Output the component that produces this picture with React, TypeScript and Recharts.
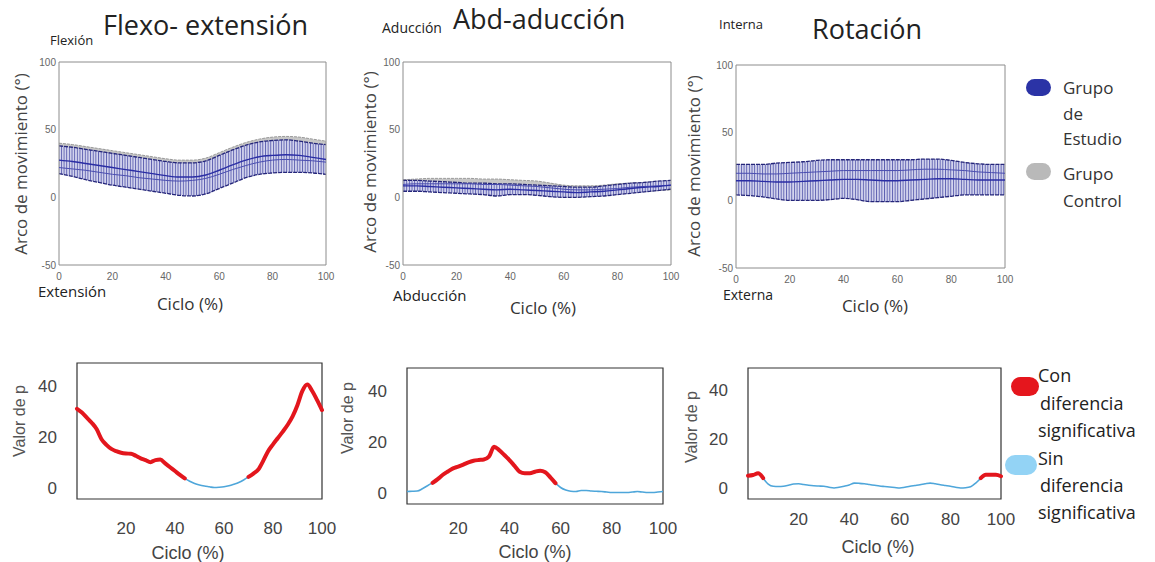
import React from 'react';
import { ComposedChart, Line, Area, XAxis, YAxis, ReferenceArea } from 'recharts';

// ciclo de marcha (%)
const cycle5 = [0, 5, 10, 15, 20, 25, 30, 35, 40, 45, 50, 55, 60, 65, 70, 75, 80, 85, 90, 95, 100];
const cycle2 = [
  0, 2, 4, 6, 8, 10, 12, 14, 16, 18, 20, 22, 24, 26, 28, 30, 32, 34, 36, 38, 40, 42, 44, 46, 48, 50,
  52, 54, 56, 58, 60, 62, 64, 66, 68, 70, 72, 74, 76, 78, 80, 82, 84, 86, 88, 90, 92, 94, 96, 98, 100,
];

const topXTicks = [0, 20, 40, 60, 80, 100];
const topYTicks = [-50, 0, 50, 100];
const pXTicks = [20, 40, 60, 80, 100];
const pYTicks = [0, 20, 40];

// Flexo-extensión (grados)
const flexStudyUpper = [38, 37, 35.5, 34, 32.5, 31, 29.5, 28, 26.5, 25.5, 25.5, 27, 31, 35, 38.5, 41, 42, 42.5, 41.5, 40, 39];
const flexStudyMean = [27.5, 26.5, 25, 23.5, 22, 20.5, 19, 17.5, 16, 15, 15, 16.5, 20, 24, 27.5, 30, 31, 31.5, 31, 29.5, 28];
const flexStudyLower = [17.5, 15.5, 13, 11, 9, 7.5, 6, 4.5, 3, 1.5, 1, 2.5, 6.5, 10.5, 14.5, 17, 18, 18.5, 18.5, 18, 17];
const flexControlUpper = [40, 39, 37.5, 36, 34.5, 33, 31.5, 30, 28.5, 27.5, 27.5, 29, 33, 37, 40.5, 43, 44.5, 45, 44.5, 43, 41.5];
const flexControlMean = [22, 21, 20, 18.5, 17, 16, 14.5, 13.5, 12.5, 12, 12.5, 14, 17, 20.5, 23.5, 26, 27.5, 28, 27.5, 27, 26];
const flexControlLower = [19, 17, 15, 13, 11, 9.5, 8, 6.5, 5, 3.5, 3, 4.5, 8.5, 12.5, 16, 18.5, 19.5, 20, 20, 19.5, 18.5];

// Abd-aducción
const abdStudyUpper = [12.5, 12.5, 12, 11.5, 11, 10.5, 10.5, 10, 10, 9.5, 9, 8.5, 8, 7.5, 7.5, 8.5, 9.5, 10.5, 11, 12, 12.5];
const abdStudyMean = [8.5, 8.5, 8, 7.5, 7, 6.5, 6, 5.5, 6, 5.5, 5, 4.5, 4, 3.5, 4, 4.5, 5.5, 6.5, 7.5, 8, 9];
const abdStudyLower = [4.5, 4.5, 4, 3.5, 3, 2.5, 2, 1, 2, 2, 1.5, 0.5, 0, 0, 0.5, 1, 2, 3, 4, 5, 6];
const abdControlUpper = [13, 13.5, 14, 14, 14, 14, 13.5, 13.5, 13, 12.5, 12, 10.5, 9, 8.5, 8.5, 9, 10, 10.5, 11, 11.5, 12];
const abdControlMean = [9.5, 10, 10, 10, 10, 10, 9.5, 9.5, 9, 8.5, 8, 7, 6, 5.5, 5.5, 6, 6.5, 7.5, 8, 8.5, 9];
const abdControlLower = [5.5, 6, 6, 6, 6, 6, 5.5, 5.5, 5, 4.5, 4, 3.5, 3, 2.5, 2.5, 3, 3.5, 4, 4.5, 5, 5.5];

// Rotación
const rotStudyUpper = [26.5, 26.5, 26.5, 27.5, 28, 28.5, 29.5, 30, 30, 30, 30, 30, 30, 30, 30.5, 30.5, 29.5, 28, 27, 26.5, 26.5];
const rotStudyMean = [14.5, 14.5, 14, 13.5, 13.5, 14, 14.5, 15, 15.5, 15.5, 15, 14.5, 14.5, 15, 15.5, 16, 16, 15.5, 15, 15, 15];
const rotStudyLower = [4, 3.5, 2.5, 1, 0, 0, 0, 0.5, 1.5, 0.5, -1, -1, -1, 0, 1, 2, 3, 4, 4, 4, 4];
const rotControlUpper = [26, 26, 26, 26.5, 27, 27.5, 28, 28.5, 29, 29, 29, 29, 29, 29, 29.5, 29.5, 29, 27.5, 26.5, 26, 26];
const rotControlMean = [20, 20, 19.5, 19.5, 20, 20.5, 21, 21.5, 22, 22, 22, 22, 22, 22.5, 23, 23, 22.5, 22, 21, 20.5, 20];
const rotControlLower = [6, 5.5, 4.5, 3, 2, 2, 2, 2.5, 3.5, 2.5, 1, 1, 1, 2, 3, 4, 5, 5.5, 5.5, 5.5, 5.5];

// Valor de p
const flexP = [
  31, 29.5, 27.5, 25.5, 23, 19, 16.8, 15.2, 14.3, 13.7, 13.4, 13.3, 12.5, 11.5, 10.8, 10, 10.8, 11, 9.5, 8, 6.5,
  5, 3.6, 2.5, 1.6, 1, 0.6, 0.3, 0, 0.1, 0.3, 0.7, 1.3, 2, 3, 4.2, 5.5, 7.1, 10.5, 14.3, 17, 19.5, 22, 24.7, 28,
  32.5, 38, 40.5, 38, 34.4, 30.5,
];
const abdP = [
  0.4, 0.5, 0.6, 1.5, 2.7, 3.8, 5.3, 7, 8.3, 9.5, 10.2, 11, 11.9, 12.5, 12.8, 13, 14.1, 18, 16.7, 14.8, 12.8,
  10.5, 8.2, 7.6, 7.6, 8.2, 8.6, 8, 6, 3.7, 2, 1, 0.5, 0.4, 0.8, 0.8, 0.6, 0.5, 0.4, 0.2, 0, 0, 0, 0, 0.2, 0.4,
  0.2, 0, 0, 0.2, 0.4,
];
const rotP = [
  5, 5.3, 6, 4, 1.6, 0.7, 0.6, 0.7, 1.1, 1.6, 1.7, 1.4, 1.1, 0.9, 0.8, 0.7, 0.3, 0, 0.3, 0.7, 1.2, 2, 1.9, 1.7,
  1.4, 1.1, 0.8, 0.6, 0.4, 0.2, 0, 0.3, 0.7, 1, 1.3, 1.7, 2, 1.7, 1.3, 1, 0.7, 0.3, 0, 0.1, 0.5, 2, 4, 5.4, 5.4,
  5.4, 4.8,
];

// tramos con diferencia significativa
const flexSig = [[0, 44], [70, 100]];
const abdSig = [[10, 58]];
const rotSig = [[0, 6], [92, 100]];

const bandRows = (su, sm, sl, cu, cm, cl) =>
  cycle5.map((x, i) => ({
    x,
    study: [sl[i], su[i]],
    studyMean: sm[i],
    control: [cl[i], cu[i]],
    controlMean: cm[i],
  }));

const pRows = (p, sig) =>
  cycle2.map((x, i) => {
    const on = sig.some(([a, b]) => x >= a && x <= b);
    const inside = sig.some(([a, b]) => x > a && x < b);
    return { x, sig: on ? p[i] : null, non: inside ? null : p[i] };
  });

const Txt = ({ x, y, size, children, color = '#222', font = '"Open Sans"', center = false, rotate = false, weight = 400 }) => {
  const tf = rotate ? 'translate(-50%,-50%) rotate(-90deg)' : center ? 'translate(-50%,-50%)' : 'translateY(-50%)';
  return (
    <div
      style={{
        position: 'absolute',
        left: x,
        top: y,
        fontSize: size,
        color,
        fontFamily: font,
        fontWeight: weight,
        whiteSpace: 'nowrap',
        lineHeight: 1,
        transform: tf,
      }}
    >
      {children}
    </div>
  );
};

const marginFor = (box, plot, yw, xh) => ({
  left: plot.x0 - box.left - yw,
  top: plot.y0 - box.top,
  right: box.left + box.width - plot.x1,
  bottom: box.top + box.height - plot.y1 - xh,
});

const tickTop = { fontSize: 10, fill: '#666', fontFamily: '"Liberation Sans"' };
const tickBottom = { fontSize: 17, fill: '#444', fontFamily: '"Liberation Sans"' };

const BandChart = ({ id, box, plot, rows }) => (
  <div style={{ position: 'absolute', left: box.left, top: box.top }}>
    <ComposedChart width={box.width} height={box.height} data={rows} margin={marginFor(box, plot, 30, 20)}>
      <defs>
        <pattern id={`hatch-${id}`} width={2.65} height={6} patternUnits="userSpaceOnUse">
          <rect width={2.65} height={6} fill="#d4d5ee" />
          <line x1={0.5} y1={0} x2={0.5} y2={6} stroke="#33379a" strokeWidth={0.75} />
        </pattern>
      </defs>
      <XAxis
        dataKey="x"
        type="number"
        domain={[0, 100]}
        ticks={topXTicks}
        interval={0}
        height={20}
        axisLine={false}
        tickLine={false}
        tickSize={4}
        tickMargin={4}
        tick={tickTop}
      />
      <YAxis
        type="number"
        domain={[-50, 100]}
        ticks={topYTicks}
        interval={0}
        width={30}
        axisLine={false}
        tickLine={false}
        tickSize={0}
        tickMargin={3}
        tick={tickTop}
      />
      <Area
        type="monotone"
        dataKey="control"
        fill="#c6c6c6"
        fillOpacity={1}
        stroke="#9a9a9a"
        strokeDasharray="3 1"
        strokeWidth={1}
        isAnimationActive={false}
      />
      <Area
        type="monotone"
        dataKey="study"
        fill={`url(#hatch-${id})`}
        fillOpacity={1}
        stroke="#25267a"
        strokeDasharray="4 1"
        strokeWidth={1.3}
        isAnimationActive={false}
      />
      <Line type="monotone" dataKey="controlMean" stroke="#4a4db0" strokeWidth={1} dot={false} isAnimationActive={false} />
      <Line type="monotone" dataKey="studyMean" stroke="#2a2da4" strokeWidth={1.4} dot={false} isAnimationActive={false} />
      <ReferenceArea x1={0} x2={100} y1={-50} y2={100} fill="none" stroke="#8c8c8c" strokeWidth={1} />
    </ComposedChart>
  </div>
);

const PChart = ({ box, plot, rows, xGap }) => (
  <div style={{ position: 'absolute', left: box.left, top: box.top }}>
    <ComposedChart width={box.width} height={box.height} data={rows} margin={marginFor(box, plot, 40, 30)}>
      <XAxis
        dataKey="x"
        type="number"
        domain={[0, 100]}
        ticks={pXTicks}
        interval={0}
        height={30}
        axisLine={false}
        tickLine={false}
        tickSize={0}
        tickMargin={xGap}
        tick={tickBottom}
      />
      <YAxis
        type="number"
        domain={[-4.5, 49]}
        ticks={pYTicks}
        interval={0}
        width={40}
        axisLine={false}
        tickLine={false}
        tickSize={0}
        tickMargin={20}
        tick={tickBottom}
      />
      <Line type="monotone" dataKey="non" stroke="#4ea6da" strokeWidth={1.6} dot={false} connectNulls={false} isAnimationActive={false} />
      <Line
        type="monotone"
        dataKey="sig"
        stroke="#e3161d"
        strokeWidth={4}
        strokeLinecap="round"
        dot={false}
        connectNulls={false}
        isAnimationActive={false}
      />
      <ReferenceArea x1={0} x2={100} y1={-4.5} y2={49} fill="none" stroke="#333" strokeWidth={1.2} />
    </ComposedChart>
  </div>
);

const Swatch = ({ x, y, w, h, color }) => (
  <div style={{ position: 'absolute', left: x, top: y, width: w, height: h, borderRadius: h / 2, background: color }} />
);

export default function App() {
  const flexRows = bandRows(flexStudyUpper, flexStudyMean, flexStudyLower, flexControlUpper, flexControlMean, flexControlLower);
  const abdRows = bandRows(abdStudyUpper, abdStudyMean, abdStudyLower, abdControlUpper, abdControlMean, abdControlLower);
  const rotRows = bandRows(rotStudyUpper, rotStudyMean, rotStudyLower, rotControlUpper, rotControlMean, rotControlLower);

  const yLabel = 'Arco de movimiento (°)';
  const gray = '#444';
  const arial = '"Liberation Sans"';

  return (
    <div style={{ position: 'absolute', left: 0, top: 0, width: 1155, height: 562, background: '#fff', overflow: 'hidden' }}>
      <BandChart
        id="flex"
        box={{ left: 0, top: 50, width: 340, height: 240 }}
        plot={{ x0: 59, y0: 62, x1: 326, y1: 265 }}
        rows={flexRows}
      />
      <BandChart
        id="abd"
        box={{ left: 340, top: 50, width: 340, height: 240 }}
        plot={{ x0: 403, y0: 62, x1: 671, y1: 265 }}
        rows={abdRows}
      />
      <BandChart
        id="rot"
        box={{ left: 680, top: 50, width: 340, height: 240 }}
        plot={{ x0: 736, y0: 65, x1: 1005, y1: 268 }}
        rows={rotRows}
      />

      <PChart box={{ left: 0, top: 350, width: 340, height: 200 }} plot={{ x0: 77, y0: 363, x1: 322, y1: 499 }} rows={pRows(flexP, flexSig)} xGap={23} />
      <PChart box={{ left: 340, top: 350, width: 340, height: 200 }} plot={{ x0: 407, y0: 368, x1: 663, y1: 504 }} rows={pRows(abdP, abdSig)} xGap={18} />
      <PChart box={{ left: 680, top: 350, width: 340, height: 200 }} plot={{ x0: 748, y0: 368, x1: 1001, y1: 499 }} rows={pRows(rotP, rotSig)} xGap={14} />

      {/* Títulos y anotaciones */}
      <Txt x={103} y={24} size={27}>Flexo- extensión</Txt>
      <Txt x={50} y={40} size={13}>Flexión</Txt>
      <Txt x={38} y={291} size={15}>Extensión</Txt>
      <Txt x={190} y={303} size={17} color="#333" center>Ciclo (%)</Txt>
      <Txt x={20} y={164} size={17} color={gray} rotate>{yLabel}</Txt>

      <Txt x={382} y={28} size={14}>Aducción</Txt>
      <Txt x={453} y={18} size={27}>Abd-aducción</Txt>
      <Txt x={393} y={295} size={15}>Abducción</Txt>
      <Txt x={543} y={307} size={17} color="#333" center>Ciclo (%)</Txt>
      <Txt x={369} y={162} size={17} color={gray} rotate>{yLabel}</Txt>

      <Txt x={719} y={24} size={13}>Interna</Txt>
      <Txt x={812} y={28} size={27}>Rotación</Txt>
      <Txt x={723} y={295} size={14}>Externa</Txt>
      <Txt x={875} y={305} size={17} color="#333" center>Ciclo (%)</Txt>
      <Txt x={693} y={166} size={17} color={gray} rotate>{yLabel}</Txt>

      <Txt x={20} y={421} size={16} color="#555" font={arial} rotate>Valor de p</Txt>
      <Txt x={188} y={553} size={18} color={gray} font={arial} center>Ciclo (%)</Txt>
      <Txt x={348} y={418} size={16} color="#555" font={arial} rotate>Valor de p</Txt>
      <Txt x={535} y={552} size={18} color={gray} font={arial} center>Ciclo (%)</Txt>
      <Txt x={692} y={427} size={16} color="#555" font={arial} rotate>Valor de p</Txt>
      <Txt x={878} y={547} size={18} color={gray} font={arial} center>Ciclo (%)</Txt>

      {/* Leyenda superior */}
      <Swatch x={1026} y={79} w={25} h={17} color="#2b33a6" />
      <Swatch x={1026} y={163} w={25} h={17} color="#b9b9b9" />
      <Txt x={1063} y={87} size={17} color="#333">Grupo</Txt>
      <Txt x={1063} y={113} size={17} color="#333">de</Txt>
      <Txt x={1063} y={138} size={17} color="#333">Estudio</Txt>
      <Txt x={1063} y={173} size={17} color="#333">Grupo</Txt>
      <Txt x={1063} y={200} size={17} color="#333">Control</Txt>

      {/* Leyenda inferior */}
      <Swatch x={1011} y={377} w={28} h={19} color="#e5161d" />
      <Swatch x={1005} y={455} w={32} h={20} color="#93d3f5" />
      <Txt x={1038} y={375} size={18}>Con</Txt>
      <Txt x={1040} y={403} size={18}>diferencia</Txt>
      <Txt x={1038} y={430} size={18}>significativa</Txt>
      <Txt x={1038} y={458} size={18}>Sin</Txt>
      <Txt x={1040} y={485} size={18}>diferencia</Txt>
      <Txt x={1038} y={512} size={18}>significativa</Txt>
    </div>
  );
}
